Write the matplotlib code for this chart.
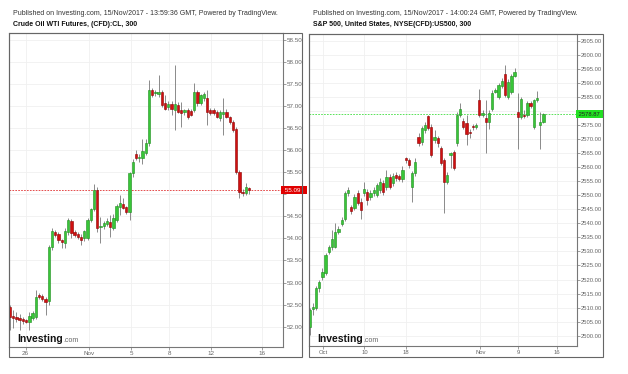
import matplotlib
matplotlib.use("Agg")
import matplotlib.pyplot as plt
import matplotlib.transforms as mtransforms
from matplotlib.patches import Rectangle
import numpy as np

# ---- Crude Oil WTI, 300 min candles ----
cl_open = [52.44,52.24,52.22,52.20,52.18,52.15,52.11,52.20,52.23,52.72,
           52.70,52.63,52.59,53.81,54.15,54.10,53.96,53.90,54.14,54.39,
           54.14,54.10,54.03,54.01,54.01,54.42,54.67,55.10,54.25,54.28,
           54.32,54.36,54.23,54.42,54.70,54.78,54.70,54.60,55.47,55.91,
           55.81,55.83,55.93,56.15,57.36,57.29,57.27,57.32,57.06,56.98,
           57.04,56.90,57.02,56.90,56.86,56.90,56.88,56.90,57.32,57.06,
           57.17,57.17,56.90,56.90,56.86,56.72,56.82,56.87,56.75,56.64,
           56.47,55.51,55.06,55.03,55.13]
cl_high = [52.49,52.38,52.33,52.29,52.22,52.18,52.33,52.36,52.83,52.76,
           52.74,52.68,53.86,54.24,54.20,54.14,53.99,54.24,54.46,54.44,
           54.18,54.14,54.10,54.20,54.46,54.68,55.23,55.16,54.49,54.40,
           54.45,54.53,54.55,54.78,54.98,54.91,54.74,55.50,55.80,56.00,
           55.90,56.25,56.25,57.58,57.40,57.36,57.70,57.36,57.24,57.10,
           57.10,57.92,57.08,57.09,56.94,56.96,56.93,57.52,57.36,57.28,
           57.32,57.36,56.95,56.96,56.90,56.90,57.18,56.92,56.78,56.67,
           56.52,55.55,55.12,55.25,55.17]
cl_low = [51.93,51.97,52.11,51.93,52.06,52.08,51.93,52.15,52.18,52.62,
          52.58,52.27,52.50,53.74,54.03,53.90,53.78,53.78,54.08,54.00,
          54.04,53.99,53.85,53.95,53.96,54.38,54.62,54.15,53.89,54.22,
          54.28,54.03,54.19,54.38,54.53,54.66,54.56,54.42,55.40,55.78,
          55.74,55.68,55.88,56.08,57.20,57.22,57.20,56.98,56.90,56.90,
          56.79,56.45,56.84,56.52,56.80,56.70,56.77,56.85,57.00,57.02,
          57.10,56.57,56.80,56.80,56.72,56.65,56.34,56.72,56.60,56.40,
          55.46,54.91,54.95,54.98,55.00]
cl_close = [52.23,52.20,52.18,52.15,52.13,52.11,52.24,52.31,52.67,52.67,
            52.63,52.56,53.81,54.17,54.08,53.96,53.92,54.17,54.42,54.12,
            54.08,54.03,53.96,54.17,54.42,54.67,55.10,54.24,54.28,54.34,
            54.39,54.25,54.45,54.73,54.79,54.68,54.60,55.47,55.74,55.81,
            55.85,55.98,56.15,57.36,57.24,57.32,57.32,57.02,56.94,57.04,
            56.94,57.04,56.87,56.84,56.90,56.75,56.79,57.32,57.06,57.24,
            57.28,56.87,56.84,56.83,56.75,56.87,56.87,56.75,56.64,56.45,
            55.51,55.06,55.02,55.17,55.09]
cl_last = 55.09
cl_yticks = [52.0,52.5,53.0,53.5,54.0,54.5,55.0,55.5,56.0,56.5,57.0,57.5,58.0,58.5]
cl_xtick_pos = [4.85, 24.6, 37.6, 49.3, 62.3, 78.0]
cl_xtick_labels = ["26", "Nov", "5", "8", "12", "16"]

# ---- S&P 500 CFD, 300 min candles ----
spx_open = [2503.2,2509.4,2509.8,2516.9,2520.8,2522.2,2529.9,2531.7,2531.7,2537.1,
            2539.8,2541.5,2550.8,2545.8,2545.4,2550.8,2547.8,2550.8,2551.3,2549.5,
            2550.8,2550.1,2551.9,2554.5,2553.1,2556.7,2554.4,2557.3,2556.9,2555.7,
            2563.2,2562.6,2553.1,2557.9,2570.9,2569.1,2573.3,2578.1,2574.5,2569.7,
            2570.4,2566.8,2562.6,2554.9,2564.4,2565.6,2568.6,2578.7,2576.6,2575.7,
            2572.7,2574.7,2574.3,2584.0,2578.7,2577.5,2576.3,2580.7,2587.0,2585.2,
            2589.0,2593.2,2585.2,2587.0,2592.6,2579.8,2577.8,2578.7,2578.7,2583.0,
            2574.3,2583.8,2575.1,2576.3]
spx_high = [2509.9,2511.7,2517.7,2519.9,2524.1,2529.5,2532.3,2537.7,2540.3,2539.1,
            2542.3,2551.6,2553.0,2546.6,2550.5,2551.9,2549.1,2554.9,2552.3,2551.9,
            2553.0,2554.4,2556.2,2555.5,2559.1,2557.6,2558.0,2558.3,2557.6,2560.5,
            2563.8,2563.3,2558.8,2563.3,2572.2,2574.7,2576.2,2578.7,2575.4,2573.3,
            2571.2,2567.6,2563.3,2558.3,2565.6,2566.2,2579.7,2582.8,2577.6,2578.7,
            2573.7,2575.4,2575.8,2587.8,2580.4,2584.0,2580.4,2587.6,2588.3,2590.1,
            2591.8,2596.5,2591.5,2593.2,2595.3,2586.4,2585.1,2580.4,2583.6,2583.6,
            2584.3,2587.3,2579.8,2579.4]
spx_low = [2500.3,2507.4,2509.2,2515.6,2519.9,2521.6,2529.1,2530.5,2531.3,2536.2,
           2539.1,2540.9,2549.8,2543.4,2544.8,2546.6,2541.5,2549.8,2546.6,2548.4,
           2549.8,2549.4,2550.8,2550.1,2551.9,2552.3,2553.4,2555.1,2555.0,2554.6,
           2561.6,2559.8,2547.6,2556.9,2567.6,2568.0,2572.2,2573.3,2563.7,2568.6,
           2567.3,2560.8,2543.7,2554.1,2559.7,2559.1,2567.6,2577.9,2573.7,2568.0,
           2570.4,2573.3,2573.7,2577.9,2577.9,2565.0,2573.6,2580.1,2586.5,2584.4,
           2588.3,2585.1,2584.4,2586.1,2592.2,2566.4,2577.2,2577.6,2577.9,2581.2,
           2573.6,2583.3,2566.4,2575.8]
spx_close = [2509.2,2510.3,2516.9,2519.2,2522.8,2528.8,2531.5,2534.4,2537.1,2538.0,
             2541.2,2550.8,2551.9,2544.5,2549.5,2547.2,2544.8,2552.2,2548.4,2550.8,
             2551.9,2553.7,2554.9,2551.3,2556.5,2553.1,2556.9,2556.1,2555.7,2559.1,
             2562.6,2560.8,2558.1,2562.0,2568.6,2573.9,2575.1,2573.9,2564.4,2570.9,
             2568.6,2561.4,2554.9,2557.3,2565.0,2559.7,2578.7,2580.7,2574.3,2571.9,
             2572.1,2574.3,2575.1,2578.7,2579.3,2576.3,2579.5,2586.6,2587.6,2589.4,
             2590.9,2585.8,2590.5,2592.6,2594.1,2577.8,2584.3,2578.1,2583.0,2581.9,
             2583.8,2584.6,2576.3,2578.9]
spx_last = 2578.87
spx_yticks = list(range(2500, 2606, 5))
spx_xtick_pos = [4.2, 17.1, 30.2, 53.3, 65.2, 77.1]
spx_xtick_labels = ["Oct", "10", "18", "Nov", "9", "16"]

W, H = 628, 374
FONT = "Liberation Sans"
GREEN, GREEN_EDGE = "#38c638", "#1e8c1e"
RED, RED_EDGE = "#d01010", "#8c0000"


def fx(x):
    return x / W


def fy(y):
    return 1 - y / H


def candles(ax, o, h, l, c):
    o, h, l, c = map(np.array, (o, h, l, c))
    x = np.arange(len(o))
    up = c >= o
    ax.vlines(x, l, h, color="#777777", lw=0.6, zorder=2)
    body = np.abs(c - o)
    body = np.maximum(body, (h.max() - l.min()) * 0.004)
    ax.bar(x, body, bottom=np.minimum(o, c), width=0.72,
           color=np.where(up, GREEN, RED), edgecolor=np.where(up, GREEN_EDGE, RED_EDGE),
           linewidth=0.4, zorder=3)


def panel(box, outer, data, yticks, ylim, xpos, xlabels, xlim, last, lastcol, linecol,
          txtcol, fmt, lblsize, pub, title):
    x0, y0, x1, y1 = box
    ax = fig.add_axes([fx(x0), fy(y1), fx(x1 - x0), (y1 - y0) / H])
    candles(ax, *data)
    ax.set_ylim(*ylim)
    ax.set_xlim(*xlim)
    ax.yaxis.tick_right()
    ax.set_yticks(yticks)
    # the label box covers the tick label right under it
    step = yticks[1] - yticks[0]
    ax.set_yticklabels(["" if abs(v - last) < step * 0.3 else fmt % v for v in yticks])
    ax.set_xticks(xpos)
    ax.set_xticklabels(xlabels)
    ax.tick_params(axis="both", direction="out", length=2, width=0.5, color="#777777",
                   labelsize=lblsize, labelcolor="#666666", pad=1)
    for lab in ax.get_xticklabels() + ax.get_yticklabels():
        lab.set_fontfamily(FONT)
    ax.grid(True, color="#f0f0f0", lw=0.6, zorder=0)
    ax.set_axisbelow(True)
    for s in ax.spines.values():
        s.set_color("#777777")
        s.set_linewidth(0.8)
    ax.axhline(last, color=linecol, lw=0.6, ls=(0, (2, 1.5)), zorder=1)
    tr = mtransforms.blended_transform_factory(ax.transAxes, ax.transData)
    ax.text(1.0, last, (" " + fmt % last).ljust(9), transform=tr, ha="left", va="center",
            fontsize=lblsize, family=FONT, color=txtcol, zorder=10, clip_on=False,
            bbox=dict(boxstyle="square,pad=0.25", fc=lastcol, ec="none"))
    ox0, oy0, ox1, oy1 = outer
    fig.add_artist(Rectangle((fx(ox0), fy(oy1)), fx(ox1 - ox0), (oy1 - oy0) / H,
                             transform=fig.transFigure, fill=False, ec="#666666", lw=0.8))
    fig.text(fx(ox0 + 4), fy(13.5), pub, fontsize=5.0, family=FONT, color="#333333", va="center")
    fig.text(fx(ox0 + 4), fy(24.5), title, fontsize=5.0, family=FONT, weight="bold",
             color="#111111", va="center")
    logo = fig.text(fx(x0 + 8), fy(342), "Investing", fontsize=7.5, family=FONT,
                    weight="bold", color="#111111", va="baseline")
    ax.annotate(".com", xy=(1, 0), xycoords=logo, xytext=(0.5, 0), textcoords="offset points",
                fontsize=5, family=FONT, color="#666666", va="bottom", ha="left")
    return ax


fig = plt.figure(figsize=(W / 100, H / 100), dpi=100, facecolor="white")

panel((9, 33, 283, 347), (9, 33, 302, 357),
      (cl_open, cl_high, cl_low, cl_close), cl_yticks, (51.54, 58.65),
      cl_xtick_pos, cl_xtick_labels, (-0.3, 84.5), cl_last, "#e00000", "#e03030",
      "white", "%.2f", 4.5,
      "Published on Investing.com, 15/Nov/2017 - 13:59:36 GMT, Powered by TradingView.",
      "Crude Oil WTI Futures, (CFD):CL, 300")

panel((309, 34, 577, 346), (309, 34, 603, 357),
      (spx_open, spx_high, spx_low, spx_close), spx_yticks, (2496.3, 2607.5),
      spx_xtick_pos, spx_xtick_labels, (-0.2, 83.5), spx_last, "#22e022", "#40dd40",
      "#222222", "%.2f", 4.2,
      "Published on Investing.com, 15/Nov/2017 - 14:00:24 GMT, Powered by TradingView.",
      "S&P 500, United States, NYSE(CFD):US500, 300")

fig.savefig("out.png", dpi=100, facecolor="white")
